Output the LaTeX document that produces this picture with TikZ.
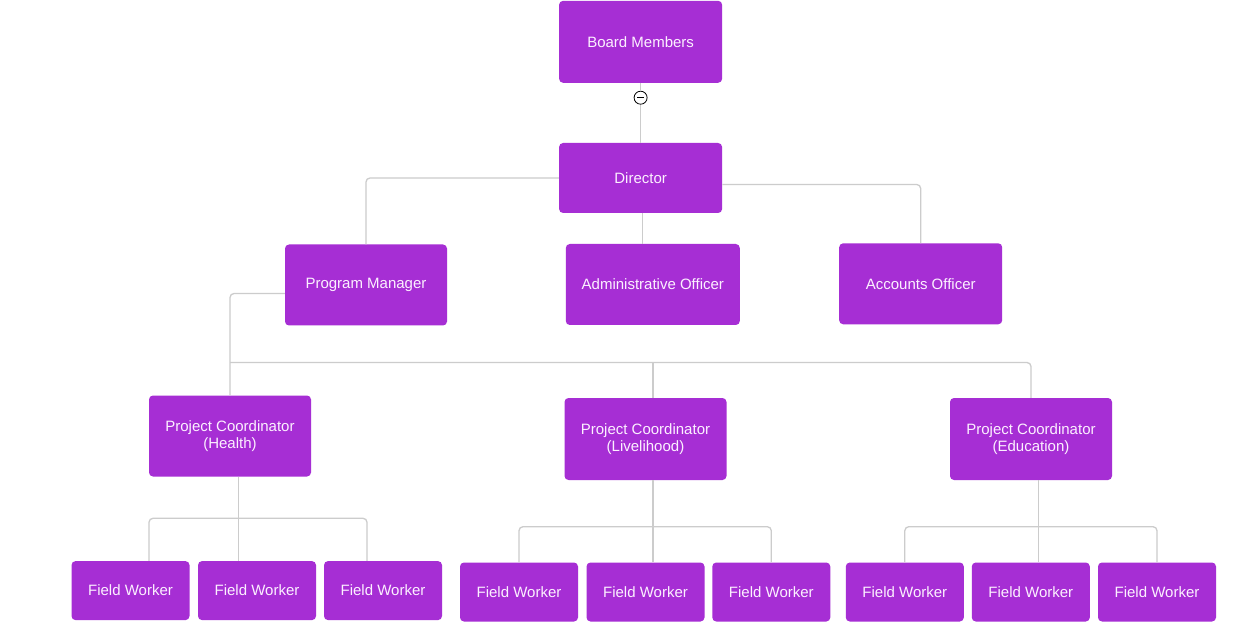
\documentclass[tikz,border=0pt]{standalone}
\usepackage{fontspec}
\setmainfont{Liberation Sans}
\definecolor{boxfill}{RGB}{166,46,212}
\definecolor{boxtext}{RGB}{252,240,255}
\definecolor{linegray}{RGB}{204,204,204}
\tikzset{
  box/.style={rectangle, rounded corners=4pt, fill=boxfill, draw=none, text=boxtext,
    inner sep=0pt, align=center, font=\fontsize{15}{17.5}\selectfont},
  bigbox/.style={box, minimum width=163pt, minimum height=81pt},
  fwbox/.style={box, minimum width=118pt, minimum height=59pt},
  conn/.style={draw=linegray, line width=1.3pt, rounded corners=4pt},
}
\begin{document}
\begin{tikzpicture}[x=1pt,y=-1pt]
\path[fill=white] (0,0) rectangle (1245,628);
\useasboundingbox (0,0) rectangle (1245,628);

% top levels
\node[bigbox, minimum height=82pt] (board) at (640.6,41.8) {Board Members};
\node[bigbox, minimum height=70pt] (dir) at (640.6,178) {Director};
\node[bigbox, minimum width=162pt] (pm) at (366,285) {Program Manager};
\node[bigbox, minimum width=174pt] (adm) at (652.8,284.5) {Administrative Officer};
\node[bigbox] (ao) at (920.7,283.8) {Accounts Officer};

% coordinators
\node[bigbox, minimum width=162pt] (hc) at (230,436) {Project Coordinator\\(Health)};
\node[bigbox, minimum width=162pt, minimum height=82pt] (lc) at (645.5,439) {Project Coordinator\\(Livelihood)};
\node[bigbox, minimum width=162pt, minimum height=82pt] (ec) at (1031,439) {Project Coordinator\\(Education)};

% field workers
\node[fwbox] (hf1) at (130.5,590.6) {Field Worker};
\node[fwbox] (hf2) at (257,590.6) {Field Worker};
\node[fwbox] (hf3) at (383,590.6) {Field Worker};
\node[fwbox] (lf1) at (519,592) {Field Worker};
\node[fwbox] (lf2) at (645.5,592) {Field Worker};
\node[fwbox] (lf3) at (771.3,592) {Field Worker};
\node[fwbox] (ef1) at (904.8,592) {Field Worker};
\node[fwbox] (ef2) at (1030.8,592) {Field Worker};
\node[fwbox] (ef3) at (1157,592) {Field Worker};

% collapse marker
\node[circle, draw=black, fill=white, line width=0.8pt, minimum size=13pt, inner sep=0pt] (minus) at (640.6,97.7) {};
\draw[line width=1pt] ([xshift=-3.6pt]minus.center) -- ([xshift=3.6pt]minus.center);

% connectors
\draw[conn] (board.south) -- (minus.north);
\draw[conn] (minus.south) -- (dir.north);
\draw[conn] (dir.west) -| (pm.north);
\draw[conn] ([yshift=-6.5pt]dir.east) -| (ao.north);
\draw[conn] ([xshift=2pt]dir.south) -- ([xshift=2pt]dir.south |- adm.north);

\coordinate (bus) at (0,362.5);
\draw[conn] ([yshift=-8.5pt]pm.west) -| (hc.north);
\draw[conn] (hc.north |- bus) -| (ec.north);
\draw[conn] ([xshift=7.5pt]lc.north |- bus) -- ([xshift=7.5pt]lc.north);

% health branch
\coordinate (hb) at (0,518.3);
\draw[conn] ([xshift=8.7pt]hc.south) -- ([xshift=8.7pt]hc.south |- hf2.north);
\draw[conn] ([xshift=18.5pt]hf1.north) -- ([xshift=18.5pt]hf1.north |- hb)
  -- ([xshift=-16pt]hf3.north |- hb) -- ([xshift=-16pt]hf3.north);

% livelihood branch
\coordinate (lb) at (0,526.7);
\draw[conn] ([xshift=7.5pt]lc.south) -- ([xshift=7.5pt]lc.south |- lf2.north);
\draw[conn] (lf1.north) -- (lf1.north |- lb) -- (lf3.north |- lb) -- (lf3.north);

% education branch
\coordinate (eb) at (0,526.7);
\draw[conn] ([xshift=7.7pt]ec.south) -- ([xshift=7.7pt]ec.south |- ef2.north);
\draw[conn] (ef1.north) -- (ef1.north |- eb) -- (ef3.north |- eb) -- (ef3.north);
\end{tikzpicture}
\end{document}
